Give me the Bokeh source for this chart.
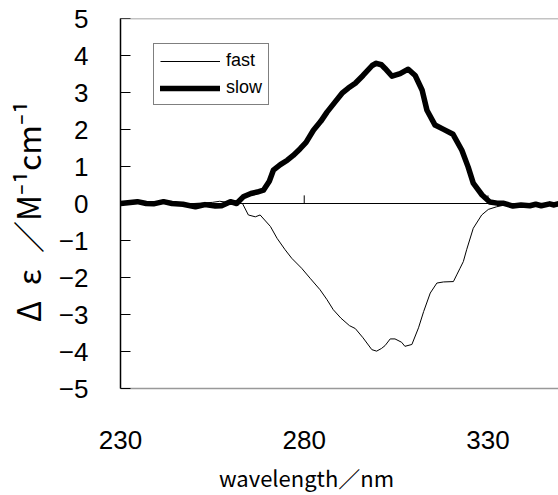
from bokeh.plotting import figure
from bokeh.models import Range1d, FixedTicker, Span, Legend, LegendItem
from bokeh.embed import file_html
from bokeh.resources import INLINE

# ---- data ----
wl_slow = [230, 232, 234.6, 237, 239, 241.7, 244, 247, 250.4, 253, 255.8, 257.5,
           259.9, 261.6, 263.4, 265.5, 267.2, 268.9, 270.5, 271.6, 273.5, 275.4,
           277, 278.9, 280.5, 282.5, 284.5, 286.2, 288.2, 290.3, 292, 293.9, 296.0,
           298.5, 299.6, 301, 302.0, 303.9, 306.1, 308.3, 310.2, 312.1, 313.4, 315.6,
           317.8, 320.5, 322.9, 324.6, 326.0, 328.4, 330.5, 332.5, 334.1, 336.8, 339,
           341.4, 343, 344.5, 346.8, 348, 349.3]
slow = [0, 0.02, 0.05, 0.0, -0.01, 0.05, 0.0, -0.02, -0.09, -0.03, -0.07, -0.06,
        0.05, 0.0, 0.18, 0.27, 0.31, 0.36, 0.6, 0.9, 1.05, 1.17,
        1.3, 1.48, 1.65, 1.98, 2.22, 2.47, 2.72, 2.98, 3.12, 3.25, 3.46,
        3.73, 3.79, 3.75, 3.65, 3.44, 3.51, 3.63, 3.46, 3.06, 2.52, 2.12,
        2.01, 1.87, 1.44, 0.99, 0.55, 0.23, 0.04, 0.01, 0.01, -0.07, -0.04,
        -0.06, -0.02, -0.06, -0.01, -0.04, 0.0]

wl_fast = [230, 240, 250, 255, 257, 260, 263.2, 264.8, 266.7, 268.0, 270.8, 272.6,
           274.8, 276.6, 279.3, 281.6, 284.3, 286.2, 287.9, 290.0, 292.3, 293.9,
           296.0, 298.4, 299.7, 301, 302.0, 303.4, 304.7, 306.5, 307.4, 309.3,
           311.1, 312.5, 314.3, 316.1, 317.9, 320.6, 321.5, 322.4, 323.3, 324.2,
           326.0, 328.3, 330.1, 332.3, 335, 340, 349.3]
fast = [0, 0, 0, 0.03, 0.06, 0.02, 0, -0.31, -0.36, -0.31, -0.62, -0.94,
        -1.25, -1.48, -1.75, -2.02, -2.33, -2.6, -2.87, -3.1, -3.3, -3.38,
        -3.63, -3.95, -3.99, -3.92, -3.84, -3.66, -3.66, -3.75, -3.86, -3.81,
        -3.36, -2.92, -2.42, -2.15, -2.12, -2.11, -1.93, -1.75, -1.57, -1.25,
        -0.67, -0.31, -0.16, -0.09, -0.03, 0, 0]

x_ticks = [230, 280, 330]
y_ticks = [-5, -4, -3, -2, -1, 0, 1, 2, 3, 4, 5]
y_tick_labels = ["\u22125", "\u22124", "\u22123", "\u22122", "\u22121", "0",
                 "1", "2", "3", "4", "5"]

# trailing spaces shift the centred titles, as in the reference
x_label = "wavelength\uff0fnm\u3000\u3000\u3000"
y_label = "\u0394\u2002\u03b5\u2002\uff0fM\u207b\u00b9cm\u207b\u00b9\u2002"

TICK_FONT = "Liberation Sans"
LABEL_FONT = "Noto Sans CJK JP"

p = figure(width=558, height=495, output_backend="svg", toolbar_location=None,
           x_range=Range1d(230, 349.2), y_range=Range1d(-5, 5),
           min_border_left=120, min_border_right=0, min_border_top=18,
           min_border_bottom=106)
p.outline_line_color = None
p.grid.visible = False
p.background_fill_color = "white"
p.border_fill_color = "white"

# x axis (bottom): labels only, gray baseline = bottom frame
xa = p.xaxis[0]
xa.ticker = FixedTicker(ticks=x_ticks)
xa.axis_line_color = "#999999"
xa.axis_line_width = 1.5
xa.major_tick_line_color = None
xa.minor_tick_line_color = None
xa.major_tick_out = 0
xa.major_tick_in = 0
xa.major_label_standoff = 42
xa.major_label_text_font = TICK_FONT
xa.major_label_text_font_size = "26px"
xa.major_label_text_color = "black"
xa.axis_label = x_label
xa.axis_label_text_font = LABEL_FONT
xa.axis_label_text_font_style = "normal"
xa.axis_label_text_font_size = "22px"
xa.axis_label_text_color = "black"
xa.axis_label_standoff = 9

# y axis
ya = p.yaxis[0]
ya.ticker = FixedTicker(ticks=y_ticks)
ya.major_label_overrides = {t: s for t, s in zip(y_ticks, y_tick_labels)}
ya.axis_line_color = "black"
ya.axis_line_width = 1.5
ya.major_tick_line_color = "black"
ya.major_tick_line_width = 1.2
ya.major_tick_in = 10
ya.major_tick_out = 0
ya.minor_tick_line_color = None
ya.major_label_standoff = 32
ya.major_label_text_font = TICK_FONT
ya.major_label_text_font_size = "26px"
ya.major_label_text_color = "black"
ya.axis_label = y_label
ya.axis_label_text_font = LABEL_FONT
ya.axis_label_text_font_style = "normal"
ya.axis_label_text_font_size = "32px"
ya.axis_label_text_color = "black"
ya.axis_label_standoff = 6

# top frame line and zero line with ticks
p.add_layout(Span(location=5, dimension="width", line_color="#888888", line_width=1.5))
p.add_layout(Span(location=0, dimension="width", line_color="black", line_width=1))
p.segment(x0=x_ticks, y0=[0] * len(x_ticks), x1=x_ticks, y1=[0.22] * len(x_ticks),
          line_color="black", line_width=1)

r_fast = p.line(wl_fast, fast, line_color="black", line_width=1, line_join="round")
r_slow = p.line(wl_slow, slow, line_color="black", line_width=5.5, line_join="round",
                line_cap="round")

legend = Legend(items=[LegendItem(label="fast", renderers=[r_fast]),
                       LegendItem(label="slow", renderers=[r_slow])],
                location=(33, 283), orientation="vertical",
                border_line_color="black", border_line_width=1,
                background_fill_color="white", background_fill_alpha=1,
                padding=6, spacing=6, margin=0,
                glyph_width=60, glyph_height=20, label_height=20,
                label_standoff=6,
                label_text_font=TICK_FONT, label_text_font_size="18px",
                label_text_color="black")
p.add_layout(legend)

open("out.html", "w").write(file_html(p, INLINE))
